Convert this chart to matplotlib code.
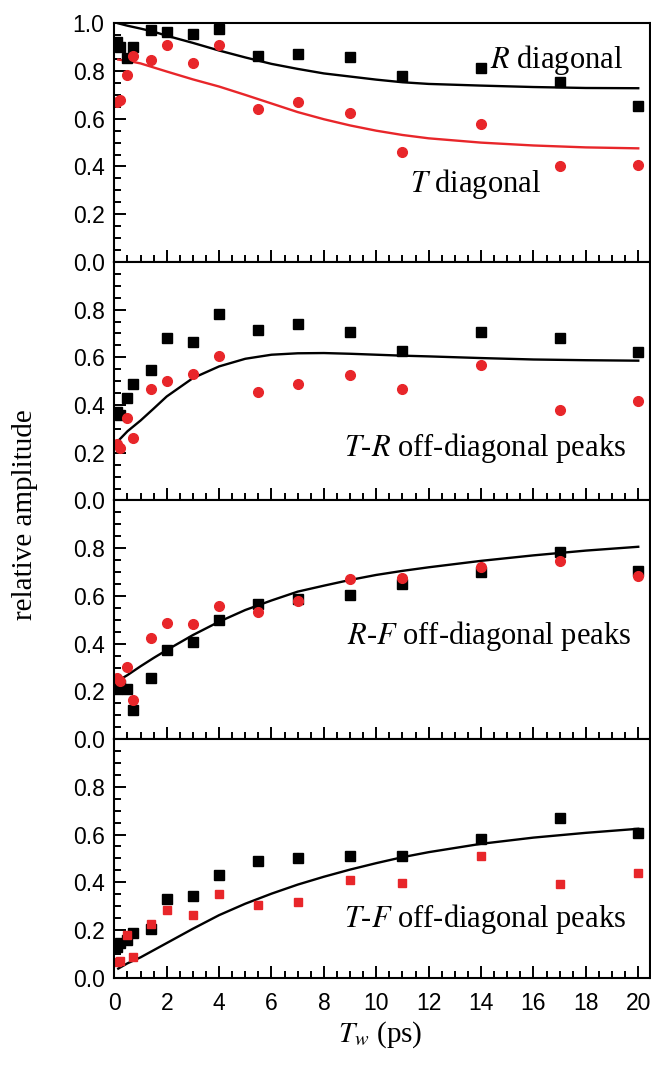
import matplotlib
matplotlib.use('Agg')
import matplotlib.pyplot as plt
from matplotlib.ticker import MultipleLocator

plt.rcParams['mathtext.fontset'] = 'stix'

# waiting times (ps) of the data points
tw = [0.1, 0.2, 0.5, 0.7, 1.4, 2, 3, 4, 5.5, 7, 9, 11, 14, 17, 20]

# panel 1: diagonal peaks
r_diag = [0.92, 0.90, 0.855, 0.90, 0.972, 0.962, 0.955, 0.976, 0.865, 0.872, 0.858, 0.781, 0.812, 0.756, 0.652]
t_diag = [0.67, 0.68, 0.785, 0.862, 0.847, 0.909, 0.833, 0.911, 0.639, 0.67, 0.626, 0.459, 0.576, 0.403, 0.408]

# panel 2: T-R off-diagonal
tr_black = [0.37, 0.36, 0.429, 0.488, 0.548, 0.681, 0.664, 0.782, 0.716, 0.74, 0.706, 0.628, 0.706, 0.681, 0.621]
tr_red = [0.235, 0.222, 0.345, 0.264, 0.467, 0.502, 0.53, 0.607, 0.453, 0.49, 0.527, 0.469, 0.566, 0.378, 0.415]

# panel 3: R-F off-diagonal
rf_black = [0.21, 0.225, 0.21, 0.12, 0.254, 0.373, 0.406, 0.50, 0.565, 0.586, 0.604, 0.649, 0.702, 0.783, 0.705]
rf_red = [0.257, 0.245, 0.303, 0.164, 0.422, 0.488, 0.484, 0.559, 0.534, 0.579, 0.671, 0.674, 0.723, 0.747, 0.684]

# panel 4: T-F off-diagonal
tf_black = [0.13, 0.145, 0.159, 0.189, 0.206, 0.329, 0.341, 0.429, 0.488, 0.503, 0.509, 0.509, 0.583, 0.671, 0.608]
tf_red = [0.065, 0.07, 0.178, 0.087, 0.224, 0.283, 0.264, 0.352, 0.303, 0.317, 0.411, 0.397, 0.509, 0.394, 0.439]

# model curves
fit_tw = [0.15, 0.5, 1, 1.5, 2, 3, 4, 5, 6, 7, 8, 9, 10, 11, 12, 14, 16, 18, 20]
fit_r_diag = [1.0, 0.99, 0.978, 0.965, 0.948, 0.918, 0.886, 0.857, 0.83, 0.809, 0.79, 0.777, 0.764, 0.753, 0.746, 0.739, 0.733, 0.729, 0.728]
fit_t_diag = [0.848, 0.843, 0.832, 0.815, 0.798, 0.765, 0.735, 0.70, 0.664, 0.628, 0.598, 0.572, 0.55, 0.532, 0.518, 0.50, 0.488, 0.48, 0.476]
fit_tr = [0.25, 0.29, 0.335, 0.385, 0.436, 0.513, 0.562, 0.594, 0.611, 0.617, 0.618, 0.615, 0.611, 0.607, 0.604, 0.597, 0.591, 0.588, 0.586]
fit_rf = [0.245, 0.268, 0.305, 0.34, 0.373, 0.436, 0.492, 0.541, 0.581, 0.618, 0.643, 0.667, 0.688, 0.705, 0.72, 0.747, 0.77, 0.79, 0.806]
fit_tf = [0.038, 0.06, 0.085, 0.115, 0.145, 0.205, 0.262, 0.31, 0.352, 0.39, 0.423, 0.453, 0.48, 0.505, 0.526, 0.561, 0.587, 0.607, 0.624]

RED = '#e8262a'
SERIF = 'Liberation Serif'
SANS = 'Liberation Sans'

fig, axes = plt.subplots(4, 1, figsize=(6.51, 10.7), dpi=100, sharex=True)
fig.subplots_adjust(left=0.1756, right=0.9985, top=0.9782, bottom=0.0863, hspace=0)

def style_axis(ax, top_panel=False):
    ax.set_xlim(0, 20.45)
    ax.set_ylim(0, 1.0)
    ax.xaxis.set_major_locator(MultipleLocator(2))
    ax.xaxis.set_minor_locator(MultipleLocator(0.5))
    ax.set_yticks([0, 0.2, 0.4, 0.6, 0.8, 1.0] if top_panel else [0, 0.2, 0.4, 0.6, 0.8])
    ax.yaxis.set_minor_locator(MultipleLocator(0.05))
    ax.tick_params(which='both', direction='in', width=1.4, top=False, right=False)
    ax.tick_params(which='major', length=8.5)
    ax.tick_params(which='minor', length=4.8)
    ax.tick_params(axis='y', pad=7)
    ax.tick_params(axis='x', pad=10)
    ax.yaxis.set_major_formatter(plt.FormatStrFormatter('%.1f'))
    for lab in ax.get_xticklabels() + ax.get_yticklabels():
        lab.set_fontfamily(SANS)
        lab.set_fontsize(16.5)
    for sp in ax.spines.values():
        sp.set_linewidth(1.5)

def panel_text(ax, x, y, s):
    ax.text(x, y, s, fontsize=22, family=SERIF, ha='center', va='center')

ax = axes[0]
ax.plot(fit_tw, fit_r_diag, color='black', lw=1.7)
ax.plot(fit_tw, fit_t_diag, color=RED, lw=1.7)
ax.plot(tw, r_diag, 's', color='black', ms=6.5)
ax.plot(tw, t_diag, 'o', color=RED, ms=7)
panel_text(ax, 16.9, 0.845, r'$R$ diagonal')
panel_text(ax, 13.8, 0.325, r'$T$ diagonal')

ax = axes[1]
ax.plot(fit_tw, fit_tr, color='black', lw=1.7)
ax.plot(tw, tr_black, 's', color='black', ms=6.5)
ax.plot(tw, tr_red, 'o', color=RED, ms=7)
panel_text(ax, 14.15, 0.22, r'$T$-$R$ off-diagonal peaks')

ax = axes[2]
ax.plot(fit_tw, fit_rf, color='black', lw=1.7)
ax.plot(tw, rf_black, 's', color='black', ms=6.5)
ax.plot(tw, rf_red, 'o', color=RED, ms=7)
panel_text(ax, 14.3, 0.43, r'$R$-$F$ off-diagonal peaks')

ax = axes[3]
ax.plot(fit_tw, fit_tf, color='black', lw=1.7)
ax.plot(tw, tf_black, 's', color='black', ms=6.5)
ax.plot(tw, tf_red, 's', color=RED, ms=6)
panel_text(ax, 14.15, 0.245, r'$T$-$F$ off-diagonal peaks')

for i, ax in enumerate(axes):
    style_axis(ax, top_panel=(i == 0))

fig.text(0.038, 0.519, 'relative amplitude', rotation=90, ha='center', va='center',
         fontsize=21, family=SERIF)
fig.text(380 / 651, 1 - 1035 / 1070, r'$T_w$ (ps)', ha='center', va='center',
         fontsize=21, family=SERIF)

fig.savefig('out.png', dpi=100)
